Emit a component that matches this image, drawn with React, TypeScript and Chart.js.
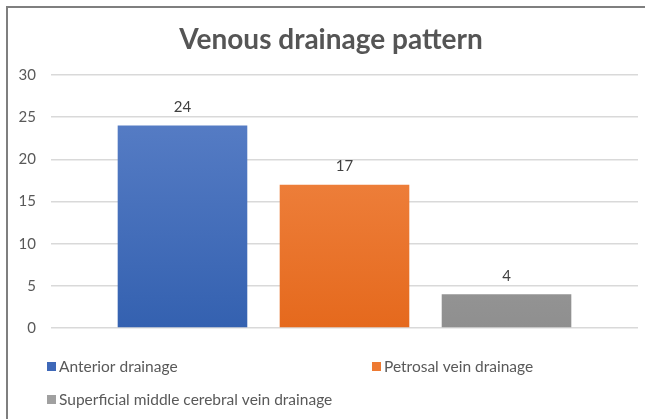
import React, { useEffect, useRef } from "react";
import { Chart, registerables } from "chart.js";

Chart.register(...registerables);

const chartTitle = "Venous drainage pattern";
const categories = [""];
const seriesNames = ["Anterior drainage", "Petrosal vein drainage", "Superficial middle cerebral vein drainage"];
const seriesValues = [[24], [17], [4]];
const gradientStops = [
  ["#5d82c9", "#3461b0"],
  ["#f38d4e", "#e5691d"],
  ["#ababab", "#8f8f8f"],
];
const legendColors = ["#3e68b8", "#ee7a32", "#a0a0a0"];
const yTicks = [0, 5, 10, 15, 20, 25, 30];

const FONT = "Lato, 'Open Sans', sans-serif";

const framePlugin = {
  id: "frame",
  beforeDraw(chart: any) {
    const ctx = chart.ctx;
    ctx.save();
    ctx.fillStyle = "#ffffff";
    ctx.fillRect(0, 0, chart.width, chart.height);
    ctx.strokeStyle = "#7f7f7f";
    ctx.lineWidth = 2;
    ctx.beginPath();
    ctx.moveTo(7, chart.height);
    ctx.lineTo(7, 7);
    ctx.lineTo(chart.width, 7);
    ctx.stroke();
    ctx.restore();
  },
  afterDraw(chart: any) {
    const ctx = chart.ctx;
    ctx.save();
    // title
    ctx.fillStyle = "#555555";
    ctx.font = `bold 28px ${FONT}`;
    ctx.textAlign = "center";
    ctx.textBaseline = "middle";
    ctx.fillText(chartTitle, 331, 40);
    // value labels
    ctx.font = `15px ${FONT}`;
    ctx.fillStyle = "#404040";
    chart.data.datasets.forEach((ds: any, i: number) => {
      const meta = chart.getDatasetMeta(i);
      meta.data.forEach((el: any, j: number) => {
        ctx.fillText(String(ds.data[j]), el.x, el.y - 18);
      });
    });
    // legend
    const pos = [
      [47, 366],
      [372, 366],
      [47, 399],
    ];
    ctx.font = `15.5px ${FONT}`;
    ctx.textAlign = "left";
    chart.data.datasets.forEach((ds: any, i: number) => {
      const [x, y] = pos[i];
      ctx.fillStyle = legendColors[i];
      ctx.fillRect(x, y - 4, 9, 9);
      ctx.fillStyle = "#595959";
      ctx.fillText(ds.label, x + 12, y + 1);
    });
    ctx.restore();
  },
};

export default function App() {
  const ref = useRef<HTMLCanvasElement>(null);
  useEffect(() => {
    const canvas = ref.current!;
    const chart = new Chart(canvas, {
      type: "bar",
      data: {
        labels: categories,
        datasets: seriesNames.map((name, i) => ({
          label: name,
          data: seriesValues[i],
          backgroundColor: (c: any) => {
            const area = c.chart.chartArea;
            if (!area) return gradientStops[i][0];
            const g = c.chart.ctx.createLinearGradient(0, area.top, 0, area.bottom);
            g.addColorStop(0, gradientStops[i][0]);
            g.addColorStop(1, gradientStops[i][1]);
            return g;
          },
          borderWidth: 0,
          barPercentage: 0.8,
          categoryPercentage: 0.828,
        })),
      },
      options: {
        animation: false,
        responsive: false,
        maintainAspectRatio: false,
        layout: { padding: { left: 0, top: 75, right: 7, bottom: 91 } },
        plugins: {
          legend: { display: false },
          title: { display: false },
          tooltip: { enabled: false },
        },
        scales: {
          x: { display: false },
          y: {
            min: 0,
            max: 30,
            afterBuildTicks: (s: any) => {
              s.ticks = yTicks.map((v) => ({ value: v }));
            },
            afterFit: (s: any) => {
              s.width = 51;
            },
            grid: { color: "#d9d9d9", lineWidth: 1.5, drawTicks: false },
            border: { display: false },
            ticks: {
              color: "#595959",
              font: { family: FONT, size: 15 },
              padding: 15,
            },
          },
        },
      },
      plugins: [framePlugin],
    });
    return () => chart.destroy();
  }, []);
  return (
    <div style={{ position: "fixed", left: 0, top: 0, width: 645, height: 419 }}>
      <canvas ref={ref} width={645} height={419} style={{ width: 645, height: 419 }} />
    </div>
  );
}
